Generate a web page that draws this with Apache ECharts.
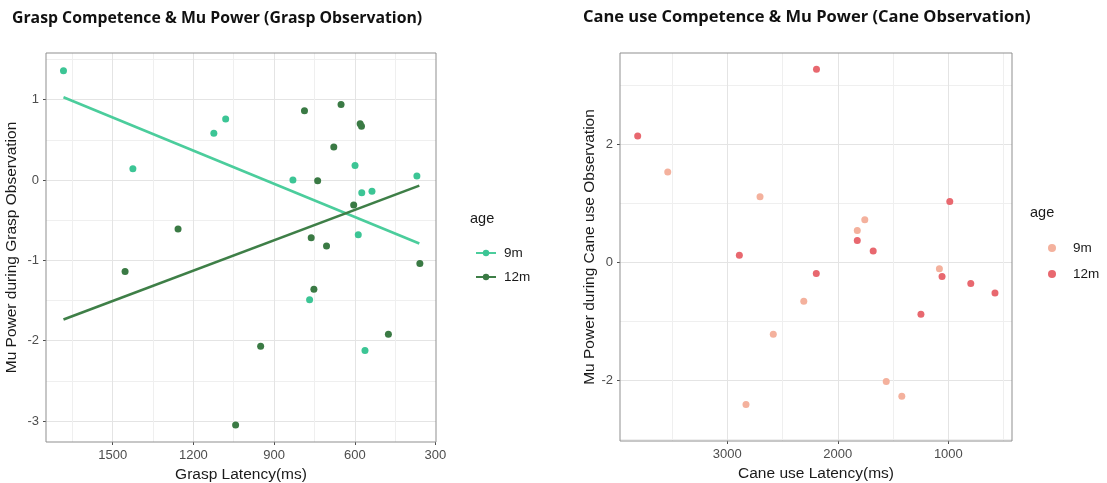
<!DOCTYPE html>
<html>
<head>
<meta charset="utf-8">
<script src="https://cdn.jsdelivr.net/npm/echarts@6/dist/echarts.min.js"></script>
<style>
  html, body { margin: 0; padding: 0; background: #ffffff; }
  #chart { width: 1107px; height: 483px; }
</style>
</head>
<body>
<div id="chart"></div>
<script>
// ---- Grasp observation: latency (ms) vs mu power ----
const graspLatency9m  = [1683, 1425, 1124, 1080, 830, 599, 369, 574, 536, 587, 768, 562];
const graspMu9m       = [1.36, 0.14, 0.58, 0.76, 0.00, 0.18, 0.05, -0.16, -0.14, -0.68, -1.49, -2.12];
const graspLatency12m = [1454, 1257, 1043, 950, 787, 762, 752, 738, 705, 678, 651, 604, 580, 575, 475, 358];
const graspMu12m      = [-1.14, -0.61, -3.05, -2.07, 0.86, -0.72, -1.36, -0.01, -0.82, 0.41, 0.94, -0.31, 0.70, 0.67, -1.92, -1.04];

// linear fit per age group (end points)
const graspFitLatency = [1683, 360];
const graspFitMu9m    = [1.03, -0.79];
const graspFitMu12m   = [-1.735, -0.07];

// ---- Cane observation: latency (ms) vs mu power ----
const caneLatency9m  = [3539, 2831, 2704, 2584, 2308, 1824, 1756, 1562, 1421, 1081];
const caneMu9m       = [1.53, -2.41, 1.11, -1.22, -0.66, 0.54, 0.72, -2.02, -2.27, -0.11];
const caneLatency12m = [3811, 2891, 2195, 2193, 1824, 1680, 1248, 1057, 987, 797, 578];
const caneMu12m      = [2.14, 0.12, -0.19, 3.27, 0.37, 0.19, -0.88, -0.24, 1.03, -0.36, -0.52];

// ---- axis ticks ----
const graspXTicks = [300, 600, 900, 1200, 1500];
const graspYTicks = [-3, -2, -1, 0, 1];
const caneXTicks  = [1000, 2000, 3000];
const caneYTicks  = [-2, 0, 2];

// grid lines (major + minor)
const graspXGrid = [450, 600, 750, 900, 1050, 1200, 1350, 1500, 1650];
const graspYGrid = [-3, -2.5, -2, -1.5, -1, -0.5, 0, 0.5, 1, 1.5];
const caneXGrid  = [500, 1000, 1500, 2000, 2500, 3000, 3500];
const caneYGrid  = [-3, -2, -1, 0, 1, 2, 3];

// panel ranges
const graspXRange = [298, 1748];
const graspYRange = [-3.26, 1.58];
const caneXRange  = [424, 3971];
const caneYRange  = [-3.03, 3.547];

const ageLabels = ['9m', '12m'];

const COL = {
  grasp9m: '#3cc595', grasp12m: '#3a7a44',
  fit9m: '#4bcd9c', fit12m: '#3e7f47',
  cane9m: '#f4b19d', cane12m: '#e8686f',
  major: '#e4e4e4', minor: '#efefef',
  border: '#8f8f8f', tickLabel: '#4d4d4d', axisTitle: '#1a1a1a'
};
const FONT = "'Liberation Sans', Arial, sans-serif";

function zip(xs, ys) { return xs.map((x, i) => [x, ys[i]]); }

function gridLineColors(values, majorTicks) {
  return values.map(v => majorTicks.indexOf(v) >= 0 ? COL.major : COL.minor);
}

// axis that only draws the panel grid lines
function gridAxis(gridIndex, range, values, majors, inverse, position) {
  return {
    type: 'value', gridIndex, position, min: range[0], max: range[1], inverse: !!inverse,
    axisLine: { show: false, onZero: false }, axisLabel: { show: false },
    axisTick: { show: false, customValues: values },
    splitLine: { show: true, lineStyle: { color: gridLineColors(values, majors), width: 1 } }
  };
}

// axis that draws ticks, tick labels and title
function labelAxis(gridIndex, range, ticks, name, nameGap, inverse, position) {
  return {
    type: 'value', gridIndex, position, min: range[0], max: range[1], inverse: !!inverse,
    axisLine: { show: false, onZero: false },
    splitLine: { show: false },
    axisTick: { show: true, length: 3, customValues: ticks, lineStyle: { color: '#4d4d4d', width: 1 } },
    axisLabel: { customValues: ticks, color: COL.tickLabel, fontSize: 13, fontFamily: FONT, margin: 7,
      formatter: v => String(v) },
    name, nameLocation: 'middle', nameGap,
    nameTextStyle: { color: COL.axisTitle, fontSize: 15.5, fontFamily: FONT }
  };
}

const chart = echarts.init(document.getElementById('chart'), null, { renderer: 'canvas' });

chart.setOption({
  animation: false,
  backgroundColor: '#ffffff',
  title: [
    { text: 'Grasp Competence & Mu Power (Grasp Observation)', left: 12, top: 10, padding: 0,
      textStyle: { fontFamily: "'Open Sans', sans-serif", fontWeight: 'bold', fontSize: 15.8, color: '#111' } },
    { text: 'Cane use Competence & Mu Power (Cane Observation)', left: 583, top: 9, padding: 0,
      textStyle: { fontFamily: "'Open Sans', sans-serif", fontWeight: 'bold', fontSize: 16.5, color: '#111' } },
    { text: 'age', left: 470, top: 211, padding: 0,
      textStyle: { fontFamily: FONT, fontWeight: 'normal', fontSize: 14.5, color: COL.axisTitle } },
    { text: 'age', left: 1030, top: 205, padding: 0,
      textStyle: { fontFamily: FONT, fontWeight: 'normal', fontSize: 14.5, color: COL.axisTitle } }
  ],
  grid: [
    { left: 46, top: 53, width: 390, height: 389, outerBoundsMode: 'none', containLabel: false,
      show: true, borderColor: COL.border, borderWidth: 1, backgroundColor: 'transparent', z: 3 },
    { left: 620, top: 53, width: 392, height: 388, outerBoundsMode: 'none', containLabel: false,
      show: true, borderColor: COL.border, borderWidth: 1, backgroundColor: 'transparent', z: 3 }
  ],
  xAxis: [
    gridAxis(0, graspXRange, graspXGrid, graspXTicks, true, 'bottom'),
    labelAxis(0, graspXRange, graspXTicks, 'Grasp Latency(ms)', 20, true, 'bottom'),
    gridAxis(1, caneXRange, caneXGrid, caneXTicks, true, 'bottom'),
    labelAxis(1, caneXRange, caneXTicks, 'Cane use Latency(ms)', 20, true, 'bottom')
  ],
  yAxis: [
    gridAxis(0, graspYRange, graspYGrid, graspYTicks, false, 'left'),
    labelAxis(0, graspYRange, graspYTicks, 'Mu Power during Grasp Observation', 26, false, 'left'),
    gridAxis(1, caneYRange, caneYGrid, caneYTicks, false, 'left'),
    labelAxis(1, caneYRange, caneYTicks, 'Mu Power during Cane use Observation', 22, false, 'left')
  ],
  legend: [
    { orient: 'vertical', left: 470, top: 241, itemWidth: 20, itemHeight: 8, itemGap: 10,
      data: ageLabels, selectedMode: false,
      textStyle: { fontFamily: FONT, fontSize: 13.5, color: COL.axisTitle, padding: [0, 0, 0, 3] } },
    { orient: 'vertical', left: 1043, top: 236, itemWidth: 20, itemHeight: 8, itemGap: 12,
      data: ageLabels.map(a => 'cane ' + a), selectedMode: false,
      formatter: name => name.replace('cane ', ''),
      icon: 'circle',
      textStyle: { fontFamily: FONT, fontSize: 13.5, color: COL.axisTitle, padding: [0, 0, 0, 6] } }
  ],
  series: [
    // fitted lines first so the legend uses the line + dot key
    { name: '9m', type: 'line', xAxisIndex: 1, yAxisIndex: 1, data: zip(graspFitLatency, graspFitMu9m),
      symbol: 'circle', showSymbol: false, z: 4,
      itemStyle: { color: COL.grasp9m }, lineStyle: { color: COL.fit9m, width: 2.6 } },
    { name: '12m', type: 'line', xAxisIndex: 1, yAxisIndex: 1, data: zip(graspFitLatency, graspFitMu12m),
      symbol: 'circle', showSymbol: false, z: 4,
      itemStyle: { color: COL.grasp12m }, lineStyle: { color: COL.fit12m, width: 2.6 } },
    { name: '9m', type: 'scatter', xAxisIndex: 1, yAxisIndex: 1, data: zip(graspLatency9m, graspMu9m),
      symbolSize: 7, itemStyle: { color: COL.grasp9m, opacity: 1 }, z: 3 },
    { name: '12m', type: 'scatter', xAxisIndex: 1, yAxisIndex: 1, data: zip(graspLatency12m, graspMu12m),
      symbolSize: 7, itemStyle: { color: COL.grasp12m, opacity: 1 }, z: 3 },
    { name: 'cane 9m', type: 'scatter', xAxisIndex: 3, yAxisIndex: 3, data: zip(caneLatency9m, caneMu9m),
      symbolSize: 7, itemStyle: { color: COL.cane9m, opacity: 1 }, z: 3 },
    { name: 'cane 12m', type: 'scatter', xAxisIndex: 3, yAxisIndex: 3, data: zip(caneLatency12m, caneMu12m),
      symbolSize: 7, itemStyle: { color: COL.cane12m, opacity: 1 }, z: 3 }
  ]
});
</script>
</body>
</html>
